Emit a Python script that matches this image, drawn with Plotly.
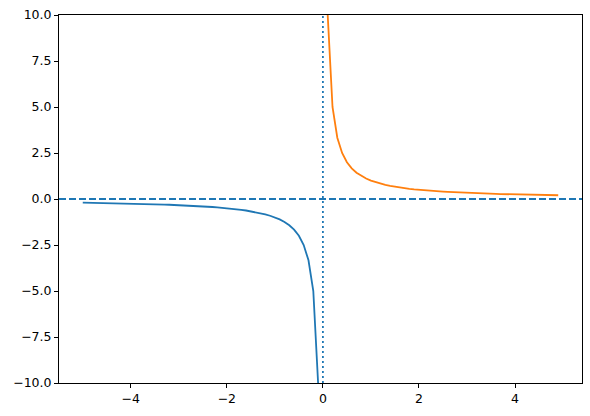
import plotly.graph_objects as go

x_neg = [-5.0, -4.9, -4.8, -4.7, -4.6, -4.5, -4.4, -4.3, -4.2, -4.1,
         -4.0, -3.9, -3.8, -3.7, -3.6, -3.5, -3.4, -3.3, -3.2, -3.1,
         -3.0, -2.9, -2.8, -2.7, -2.6, -2.5, -2.4, -2.3, -2.2, -2.1,
         -2.0, -1.9, -1.8, -1.7, -1.6, -1.5, -1.4, -1.3, -1.2, -1.1,
         -1.0, -0.9, -0.8, -0.7, -0.6, -0.5, -0.4, -0.3, -0.2, -0.1]
y_neg = [-0.2, -0.204, -0.208, -0.213, -0.217, -0.222, -0.227, -0.233, -0.238, -0.244,
         -0.25, -0.256, -0.263, -0.27, -0.278, -0.286, -0.294, -0.303, -0.313, -0.323,
         -0.333, -0.345, -0.357, -0.37, -0.385, -0.4, -0.417, -0.435, -0.455, -0.476,
         -0.5, -0.526, -0.556, -0.588, -0.625, -0.667, -0.714, -0.769, -0.833, -0.909,
         -1.0, -1.111, -1.25, -1.429, -1.667, -2.0, -2.5, -3.333, -5.0, -10.0]

x_pos = [0.1, 0.2, 0.3, 0.4, 0.5, 0.6, 0.7, 0.8, 0.9, 1.0,
         1.1, 1.2, 1.3, 1.4, 1.5, 1.6, 1.7, 1.8, 1.9, 2.0,
         2.1, 2.2, 2.3, 2.4, 2.5, 2.6, 2.7, 2.8, 2.9, 3.0,
         3.1, 3.2, 3.3, 3.4, 3.5, 3.6, 3.7, 3.8, 3.9, 4.0,
         4.1, 4.2, 4.3, 4.4, 4.5, 4.6, 4.7, 4.8, 4.9]
y_pos = [10.0, 5.0, 3.333, 2.5, 2.0, 1.667, 1.429, 1.25, 1.111, 1.0,
         0.909, 0.833, 0.769, 0.714, 0.667, 0.625, 0.588, 0.556, 0.526, 0.5,
         0.476, 0.455, 0.435, 0.417, 0.4, 0.385, 0.37, 0.357, 0.345, 0.333,
         0.323, 0.313, 0.303, 0.294, 0.286, 0.278, 0.27, 0.263, 0.256, 0.25,
         0.244, 0.238, 0.233, 0.227, 0.222, 0.217, 0.213, 0.208, 0.204]

x_ticks = [-4, -2, 0, 2, 4]
x_tick_text = ["\u22124", "\u22122", "0", "2", "4"]
y_ticks = [-10.0, -7.5, -5.0, -2.5, 0.0, 2.5, 5.0, 7.5, 10.0]
y_tick_text = ["\u221210.0", "\u22127.5", "\u22125.0", "\u22122.5", "0.0", "2.5", "5.0", "7.5", "10.0"]

x_range = [-5.495, 5.395]
y_range = [-10, 10]

blue = "#1f77b4"
orange = "#ff7f0e"

fig = go.Figure()
fig.add_trace(go.Scatter(x=x_neg, y=y_neg, mode="lines",
                         line=dict(color=blue, width=1.8)))
fig.add_trace(go.Scatter(x=x_pos, y=y_pos, mode="lines",
                         line=dict(color=orange, width=1.8)))
# reference lines
fig.add_trace(go.Scatter(x=x_range, y=[0, 0], mode="lines",
                         line=dict(color=blue, width=1.8, dash="7px,3px")))
fig.add_trace(go.Scatter(x=[0, 0], y=y_range, mode="lines",
                         line=dict(color=blue, width=1.8, dash="2px,3px")))

axis_common = dict(showgrid=False, zeroline=False, showline=True, mirror=True,
                   linecolor="black", linewidth=1, ticks="outside", ticklen=4,
                   tickwidth=1, tickcolor="black", automargin=False,
                   tickfont=dict(family="DejaVu Sans", size=12.5, color="black"))

fig.update_layout(
    width=590, height=416,
    margin=dict(l=59, r=8, t=15, b=33),
    paper_bgcolor="white", plot_bgcolor="white",
    showlegend=False,
    xaxis=dict(range=x_range, tickvals=x_ticks, ticktext=x_tick_text, **axis_common),
    yaxis=dict(range=y_range, tickvals=y_ticks, ticktext=y_tick_text, **axis_common),
)

fig.write_html("out.html",
               config={"displayModeBar": False},
               post_script="document.body.style.margin='0';document.body.style.overflow='hidden';")
